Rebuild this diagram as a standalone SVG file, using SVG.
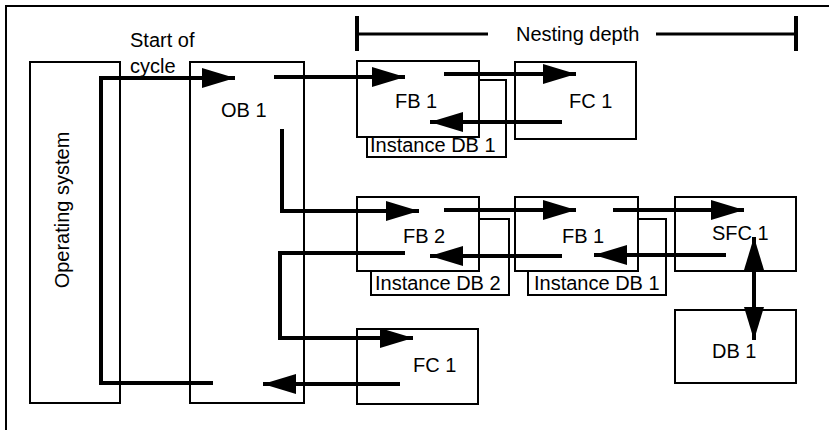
<svg xmlns="http://www.w3.org/2000/svg" width="829" height="430" viewBox="0 0 829 430">
<defs>
<style>
.box{fill:#fff;stroke:#000;stroke-width:2}
.conn{fill:none;stroke:#000;stroke-width:4}
.thin{fill:none;stroke:#000;stroke-width:3}
text{font-family:"Liberation Sans",Arial,sans-serif;font-size:20px;fill:#000}
</style>
<marker id="ah" viewBox="0 0 33 20" markerWidth="33" markerHeight="20" refX="33" refY="10" orient="auto-start-reverse" markerUnits="userSpaceOnUse">
<path d="M0,0 L33,10 L0,20 Z" fill="#000"/>
</marker>
</defs>
<rect width="829" height="430" fill="#fff"/>
<path d="M6,430 V6 H829" fill="none" stroke="#000" stroke-width="2"/>

<g id="nesting">
<path class="thin" d="M357,34 H488 M656,34 H796"/>
<path d="M357,16 V51 M796,16 V51" stroke="#000" stroke-width="4"/>
<text x="516" y="41">Nesting depth</text>
</g>
<text id="start-label" x="130" y="47">Start of</text>
<text x="130" y="73">cycle</text>

<g id="os">
<rect class="box" x="30" y="62" width="90" height="341"/>
<text transform="translate(69,210) rotate(-90)" text-anchor="middle">Operating system</text>
</g>
<g id="ob1">
<rect class="box" x="190" y="62" width="114" height="341"/>
<text x="221" y="117">OB 1</text>
</g>
<g id="fb1-top">
<rect class="box" x="367" y="80" width="139" height="77"/>
<text x="370" y="152">Instance DB 1</text>
<rect class="box" x="357" y="61" width="122" height="76"/>
<text x="395" y="108">FB 1</text>
</g>
<g id="fc1-top">
<rect class="box" x="515" y="62" width="121" height="77"/>
<text x="569" y="108">FC 1</text>
</g>
<g id="fb2">
<rect class="box" x="371" y="219" width="138" height="76"/>
<text x="375" y="290">Instance DB 2</text>
<rect class="box" x="357" y="197" width="122" height="74"/>
<text x="403" y="243">FB 2</text>
</g>
<g id="fb1-mid">
<rect class="box" x="528" y="219" width="138" height="76"/>
<text x="534" y="290">Instance DB 1</text>
<rect class="box" x="515" y="197" width="123" height="74"/>
<text x="562" y="243">FB 1</text>
</g>
<g id="sfc1">
<rect class="box" x="675" y="197" width="121" height="74"/>
<text x="712" y="240">SFC 1</text>
</g>
<g id="fc1-bottom">
<rect class="box" x="357" y="329" width="121" height="75"/>
<text x="413" y="372">FC 1</text>
</g>
<g id="db1">
<rect class="box" x="675" y="310" width="121" height="73"/>
<text x="712" y="358">DB 1</text>
</g>

<g id="connectors">
<path class="conn" d="M213,383 H101 V78 H235" marker-end="url(#ah)"/>
<path class="conn" d="M274,77 H405" marker-end="url(#ah)"/>
<path class="conn" d="M444,74 H576" marker-end="url(#ah)"/>
<path class="conn" d="M562,122 H430" marker-end="url(#ah)"/>
<path class="conn" d="M282,129 V211 H419" marker-end="url(#ah)"/>
<path class="conn" d="M444,210 H576" marker-end="url(#ah)"/>
<path class="conn" d="M613,210 H744" marker-end="url(#ah)"/>
<path class="conn" d="M726,255 H594" marker-end="url(#ah)"/>
<path class="conn" d="M562,256 H430" marker-end="url(#ah)"/>
<path class="conn" d="M405,253 H280 V338 H413" marker-end="url(#ah)"/>
<path class="conn" d="M400,384 H263" marker-end="url(#ah)"/>
<path class="conn" d="M754,237 V340" marker-start="url(#ah)" marker-end="url(#ah)"/>
</g>
</svg>
